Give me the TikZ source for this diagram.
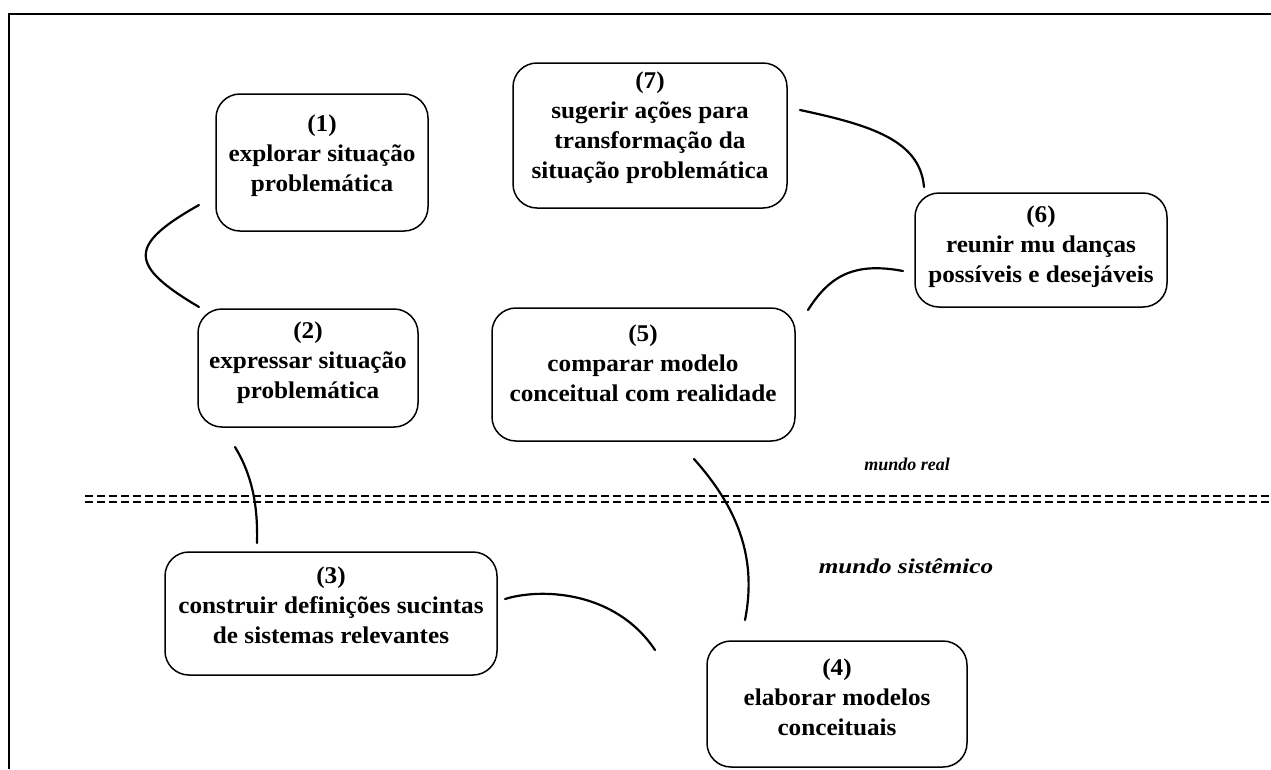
\documentclass[tikz,border=0pt]{standalone}
\usepackage{fontspec}
\setmainfont{Liberation Serif}
\newfontfamily\stagefont[FakeStretch=1.05]{Liberation Serif}
\newfontfamily\widefont[FakeStretch=1.2]{Liberation Serif}
\begin{document}
\begin{tikzpicture}[x=1pt,y=-1pt,
  stagebox/.style={draw, line width=1.5pt, rounded corners=24pt, inner sep=0pt},
  stagetext/.style={align=center, inner sep=0pt,
    font=\stagefont\bfseries\fontsize{24}{30}\selectfont},
  worldlabel/.style={inner sep=0pt, font=\bfseries\itshape\fontsize{18}{22}\selectfont},
  link/.style={line width=2.2pt, line cap=round},
  frameline/.style={line width=2pt},
  divider/.style={line width=2pt, dash pattern=on 8pt off 4pt}]
\useasboundingbox (0,0) rectangle (1271,769);

% outer frame (top and left edges)
\coordinate (fbl) at (9,769);
\coordinate (ftl) at (9,14);
\coordinate (ftr) at (1271,14);
\draw[frameline] (fbl) -- (ftl) -- (ftr);

% stage boxes
\node[stagebox, minimum width=212, minimum height=137] (b1) at (322,162.5) {};
\node[stagebox, minimum width=220, minimum height=118] (b2) at (308,368) {};
\node[stagebox, minimum width=332, minimum height=123] (b3) at (331,613.5) {};
\node[stagebox, minimum width=260, minimum height=126] (b4) at (837,704) {};
\node[stagebox, minimum width=303, minimum height=133] (b5) at (643.5,374.5) {};
\node[stagebox, minimum width=252, minimum height=114] (b6) at (1041,250) {};
\node[stagebox, minimum width=274, minimum height=145] (b7) at (650,135.5) {};

% stage texts
\node[stagetext] (t1) at (322,156) {(1)\\explorar situação\\problemática};
\node[stagetext] (t2) at (308,363) {(2)\\expressar situação\\problemática};
\node[stagetext] (t3) at (331,605) {(3)\\construir definições sucintas\\de sistemas relevantes};
\node[stagetext] (t4) at (837,697) {(4)\\elaborar modelos\\conceituais};
\node[stagetext] (t5) at (643,363) {(5)\\comparar modelo\\conceitual com realidade};
\node[stagetext] (t6) at (1041,247) {(6)\\reunir mu danças\\possíveis e desejáveis};
\node[stagetext] (t7) at (650,128) {(7)\\sugerir ações para\\transformação da\\situação problemática};

% world labels
\node[worldlabel] (mr) at (907,464) {mundo real};
\node[worldlabel, font=\widefont\bfseries\itshape\fontsize{21}{25}\selectfont] (ms) at (906,566) {mundo sistêmico};

% divider between the two worlds
\coordinate (dl) at (85,502);
\coordinate (dr) at (1271,502);
\draw[divider] (dl) -- (dr);
\draw[divider] ([yshift=6]dl) -- ([yshift=6]dr);

% connector end points
\coordinate (c12a) at (199,205);
\coordinate (c12b) at (199,307);
\coordinate (c23a) at (235,447);
\coordinate (c23b) at (257,543);
\coordinate (c34a) at (505,599);
\coordinate (c34b) at (655,650);
\coordinate (c45a) at (745,620);
\coordinate (c45b) at (694,459);
\coordinate (c56a) at (808,310);
\coordinate (c56b) at (903,271);
\coordinate (c67a) at (924,187);
\coordinate (c67b) at (800,110);

% connectors
\draw[link] (c12a) .. controls (128,245) and (128,265) .. (c12b);
\draw[link] (c23a) .. controls (252,475) and (258,505) .. (c23b);
\draw[link] (c34a) .. controls (540,588) and (615,590) .. (c34b);
\draw[link] (c45b) .. controls (735,505) and (758,555) .. (c45a);
\draw[link] (c56a) .. controls (830,275) and (855,262) .. (c56b);
\draw[link] (c67a) .. controls (920,140) and (870,125) .. (c67b);
\end{tikzpicture}
\end{document}
